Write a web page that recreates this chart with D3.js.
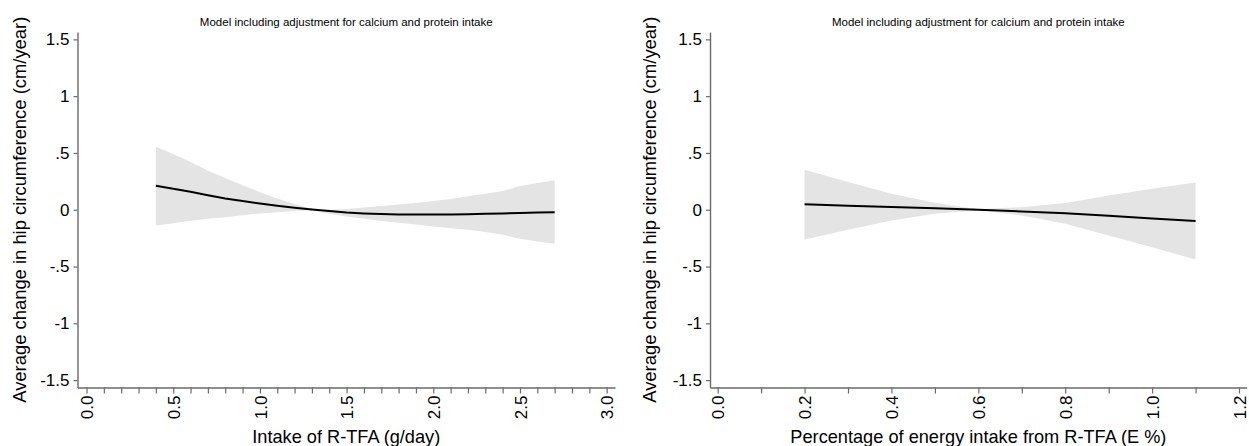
<!DOCTYPE html>
<html>
<head>
<meta charset="utf-8">
<script src="https://cdn.jsdelivr.net/npm/d3@7"></script>
<style>
  html, body { margin: 0; padding: 0; background: #fff; }
  svg { display: block; font-family: "Liberation Sans", Arial, Helvetica, sans-serif; }
</style>
</head>
<body>
<svg id="chart" width="1249" height="446"></svg>
<script>
// Panel 1: intake of R-TFA (g/day)
const gramsX     = [0.4, 0.5, 0.6, 0.7, 0.8, 0.9, 1.0, 1.1, 1.2, 1.3, 1.4, 1.5, 1.6, 1.7, 1.8, 1.9, 2.0, 2.1, 2.2, 2.3, 2.4, 2.5, 2.6, 2.7];
const gramsFit   = [0.212, 0.185, 0.158, 0.128, 0.100, 0.077, 0.055, 0.036, 0.018, 0.002, -0.012, -0.024, -0.032, -0.038, -0.041, -0.042, -0.042, -0.041, -0.039, -0.036, -0.033, -0.029, -0.025, -0.021];
const gramsUpper = [0.555, 0.490, 0.420, 0.345, 0.280, 0.215, 0.155, 0.100, 0.050, 0.008, 0.000, 0.007, 0.020, 0.032, 0.046, 0.060, 0.076, 0.095, 0.118, 0.140, 0.165, 0.210, 0.235, 0.259];
const gramsLower = [-0.139, -0.118, -0.097, -0.080, -0.066, -0.048, -0.032, -0.022, -0.012, -0.004, -0.035, -0.060, -0.080, -0.098, -0.115, -0.130, -0.147, -0.163, -0.177, -0.195, -0.220, -0.255, -0.280, -0.300];

// Panel 2: percentage of energy intake from R-TFA (E %)
const energyX     = [0.2, 0.3, 0.4, 0.5, 0.6, 0.7, 0.8, 0.9, 1.0, 1.1];
const energyFit   = [0.049, 0.036, 0.024, 0.013, 0.000, -0.015, -0.030, -0.052, -0.077, -0.100];
const energyUpper = [0.353, 0.245, 0.141, 0.062, 0.004, 0.023, 0.059, 0.126, 0.185, 0.241];
const energyLower = [-0.262, -0.175, -0.094, -0.036, -0.004, -0.050, -0.124, -0.227, -0.330, -0.439];

// Axis ticks and labels
const yTicks       = [1.5, 1, 0.5, 0, -0.5, -1, -1.5];
const yTickLabels  = ["1.5", "1", ".5", "0", "-.5", "-1", "-1.5"];
const gramsTicks   = [0.0, 0.5, 1.0, 1.5, 2.0, 2.5, 3.0];
const gramsLabels  = ["0.0", "0.5", "1.0", "1.5", "2.0", "2.5", "3.0"];
const gramsMinor   = [0.1, 0.2, 0.3, 0.4, 0.6, 0.7, 0.8, 0.9, 1.1, 1.2, 1.3, 1.4, 1.6, 1.7, 1.8, 1.9, 2.1, 2.2, 2.3, 2.4, 2.6, 2.7, 2.8, 2.9];
const energyTicks  = [0.0, 0.2, 0.4, 0.6, 0.8, 1.0, 1.2];
const energyLabels = ["0.0", "0.2", "0.4", "0.6", "0.8", "1.0", "1.2"];
const energyMinor  = [0.1, 0.3, 0.5, 0.7, 0.9, 1.1];

const panelTitle = "Model including adjustment for calcium and protein intake";
const yTitle = "Average change in hip circumference (cm/year)";

const svg = d3.select("#chart");
const axisColor = "#6a6a6a";

function drawPanel(cfg) {
  const x = d3.scaleLinear().domain(cfg.xDomain).range([cfg.left, cfg.right]);
  const y = d3.scaleLinear().domain([-1.565, 1.565]).range([387.5, 32]);
  const g = svg.append("g");

  const rows = cfg.xs.map((v, i) => ({ x: v, fit: cfg.fit[i], lo: cfg.lower[i], hi: cfg.upper[i] }));

  // confidence band
  g.append("path")
    .datum(rows)
    .attr("fill", "#e4e4e4")
    .attr("stroke", "none")
    .attr("d", d3.area().x(d => x(d.x)).y0(d => y(d.lo)).y1(d => y(d.hi)));

  // fitted curve
  g.append("path")
    .datum(rows)
    .attr("fill", "none")
    .attr("stroke", "#000")
    .attr("stroke-width", 2)
    .attr("d", d3.line().x(d => x(d.x)).y(d => y(d.fit)));

  // y axis
  const yAxis = g.append("g")
    .attr("transform", `translate(${cfg.left},0)`)
    .call(d3.axisLeft(y).tickValues(yTicks).tickSize(4).tickSizeOuter(0).tickPadding(4)
      .tickFormat((d, i) => yTickLabels[i]));
  yAxis.select(".domain").attr("stroke", axisColor).attr("stroke-width", 1.4);
  yAxis.selectAll(".tick line").attr("stroke", axisColor).attr("stroke-width", 1.2);
  yAxis.selectAll("text").attr("fill", "#000").style("font-size", "17px");

  // x axis, major ticks with rotated labels
  const xAxis = g.append("g")
    .attr("transform", "translate(0,387.5)")
    .call(d3.axisBottom(x).tickValues(cfg.ticks).tickSize(6).tickSizeOuter(0)
      .tickFormat((d, i) => cfg.labels[i]));
  xAxis.select(".domain").attr("stroke", axisColor).attr("stroke-width", 1.4);
  xAxis.selectAll(".tick line").attr("stroke", axisColor).attr("stroke-width", 1.2);
  xAxis.selectAll("text")
    .attr("fill", "#000")
    .style("font-size", "17px")
    .attr("transform", "rotate(-90)")
    .attr("text-anchor", "end")
    .attr("x", -8)
    .attr("y", 0)
    .attr("dy", "0.36em");

  // x axis, minor ticks
  g.append("g")
    .attr("transform", "translate(0,387.5)")
    .call(d3.axisBottom(x).tickValues(cfg.minor).tickSize(6).tickSizeOuter(0).tickFormat(""))
    .call(s => s.select(".domain").remove())
    .selectAll(".tick line").attr("stroke", axisColor).attr("stroke-width", 1.2);

  const cx = (cfg.left + cfg.right) / 2;

  g.append("text")
    .attr("x", cx).attr("y", 25.5)
    .attr("text-anchor", "middle")
    .style("font-size", "11.5px")
    .text(panelTitle);

  g.append("text")
    .attr("x", cx).attr("y", 442.5)
    .attr("text-anchor", "middle")
    .style("font-size", "18.2px")
    .text(cfg.xTitle);

  g.append("text")
    .attr("transform", `translate(${cfg.yTitleX},${(32 + 387.5) / 2}) rotate(-90)`)
    .attr("text-anchor", "middle")
    .style("font-size", "18.4px")
    .text(yTitle);
}

drawPanel({
  left: 77.5, right: 615, xDomain: [-0.052, 3.048],
  xs: gramsX, fit: gramsFit, upper: gramsUpper, lower: gramsLower,
  ticks: gramsTicks, labels: gramsLabels, minor: gramsMinor,
  xTitle: "Intake of R-TFA (g/day)", yTitleX: 26
});

drawPanel({
  left: 710, right: 1246.7, xDomain: [-0.0177, 1.2177],
  xs: energyX, fit: energyFit, upper: energyUpper, lower: energyLower,
  ticks: energyTicks, labels: energyLabels, minor: energyMinor,
  xTitle: "Percentage of energy intake from R-TFA (E %)", yTitleX: 656
});
</script>
</body>
</html>
